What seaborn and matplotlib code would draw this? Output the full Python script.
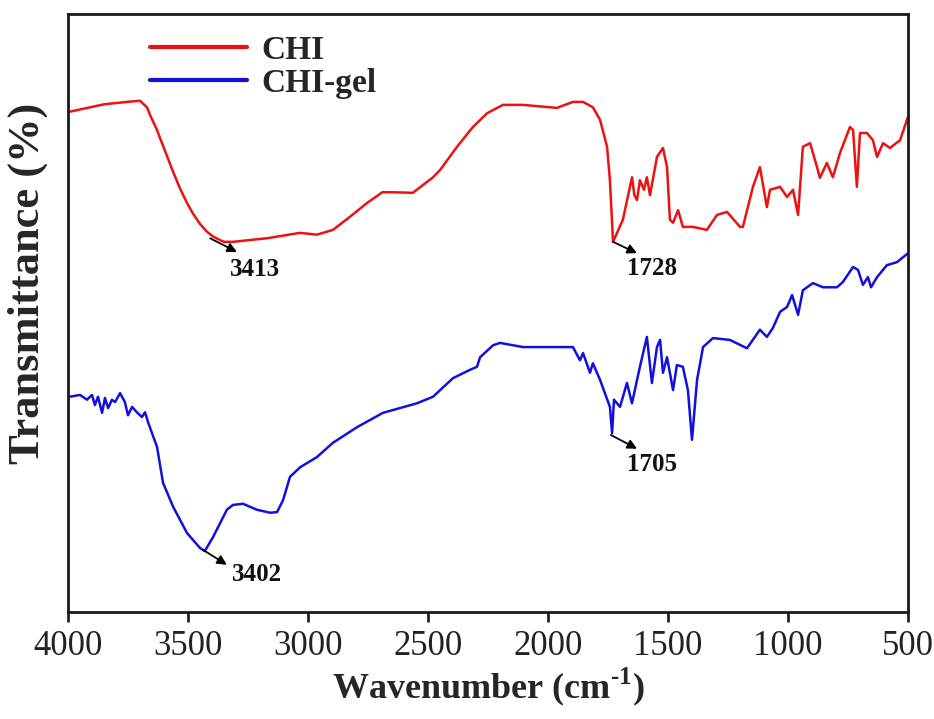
import matplotlib
matplotlib.use("Agg")
import matplotlib.pyplot as plt
import seaborn as sns
import pandas as pd

# ---- data ----
chi_wn = [4000, 3850, 3754, 3700, 3671, 3658, 3629, 3617, 3588, 3562, 3533, 3504, 3479, 3450,
          3421, 3396, 3367, 3350, 3313, 3171, 3033,
          2963, 2896, 2825, 2754, 2690, 2658, 2563, 2479, 2450, 2379, 2313, 2254, 2188, 2104,
          1963, 1896, 1854, 1813, 1783, 1754, 1742, 1729, 1688, 1650, 1640, 1629, 1617, 1600,
          1588, 1575, 1546, 1521, 1504, 1492, 1479, 1458, 1438, 1396, 1338, 1296, 1254, 1200,
          1188, 1146, 1117, 1088, 1075, 1033, 1004, 979, 958, 938, 908, 879, 867, 838, 813,
          783, 742, 729, 713, 700, 671, 646, 629, 604, 575, 533, 500]
chi_t = [83.6, 84.9, 85.3, 85.5, 84.4, 83.1, 80.6, 79.3, 76.3, 73.6, 70.8, 68.4, 66.6, 64.9,
         63.6, 62.8, 62.2, 61.9, 61.9, 62.5, 63.4,
         63.1, 63.9, 66.1, 68.4, 70.2, 70.2, 70.1, 72.7, 73.9, 77.8, 81.1, 83.4, 84.8, 84.8,
         84.3, 85.3, 85.3, 84.4, 82.3, 77.8, 72.2, 61.9, 65.6, 72.7, 69.7, 68.9, 72.2, 70.6,
         72.7, 69.7, 76.1, 77.6, 74.4, 65.6, 65.1, 67.2, 64.4, 64.4, 63.9, 66.4, 66.9, 64.4,
         64.4, 71.1, 74.4, 67.7, 70.6, 71.1, 69.4, 70.6, 66.4, 77.8, 78.4, 74.4, 72.6, 75.1, 72.7,
         76.8, 81.1, 80.6, 71.1, 80.1, 80.1, 78.9, 76.1, 78.4, 77.6, 78.9, 82.8]

gel_wn = [4000, 3992, 3950, 3921, 3900, 3888, 3875, 3858, 3846, 3833, 3817, 3804, 3783, 3763,
          3750, 3733, 3713, 3692, 3679, 3667, 3629, 3604, 3562,
          3504, 3450, 3430, 3396, 3338, 3313, 3271, 3213, 3158, 3129, 3104, 3075, 3033, 2963,
          2896, 2796, 2688, 2546, 2479, 2396, 2325, 2296, 2283, 2229, 2200, 2104, 1938, 1896,
          1867, 1854, 1825, 1813, 1783, 1763, 1742, 1733, 1725, 1700, 1671, 1650, 1617, 1588,
          1567, 1546, 1533, 1521, 1504, 1479, 1463, 1438, 1417, 1400, 1379, 1354, 1313, 1242,
          1171, 1117, 1088, 1063, 1033, 1004, 983, 958, 938, 896, 854, 796, 771, 729, 708,
          688, 667, 654, 629, 588, 546, 500]
gel_t = [36.3, 36.0, 36.3, 35.5, 36.3, 34.6, 36.0, 33.3, 35.8, 34.1, 35.5, 35.1, 36.6, 35.1,
         32.9, 34.3, 33.4, 32.6, 33.4, 31.8, 27.6, 21.6, 17.6,
         13.2, 10.7, 10.2, 12.5, 17.1, 17.9, 18.1, 17.1, 16.6, 16.7, 18.7, 22.6, 24.2, 25.9,
         28.3, 30.9, 33.3, 34.9, 36.0, 39.1, 40.5, 41.0, 42.6, 44.6, 45.0, 44.3, 44.3, 44.3,
         42.1, 43.3, 40.0, 41.6, 38.8, 36.6, 34.3, 29.9, 35.5, 34.3, 38.3, 34.9, 41.0, 46.0,
         38.3, 44.3, 45.5, 40.0, 42.6, 37.1, 41.3, 41.0, 37.1, 28.8, 38.8, 44.3, 45.8, 45.5,
         44.1, 47.2, 46.0, 47.5, 50.2, 51.0, 53.0, 49.7, 53.8, 55.0, 54.3, 54.3, 55.2, 57.7, 57.2,
         54.7, 56.0, 54.3, 56.0, 58.0, 58.5, 60.0]

series_names = ["CHI", "CHI-gel"]
x_ticks = [4000, 3500, 3000, 2500, 2000, 1500, 1000, 500]

# annotations: label, peak position, arrow-head position, text position
peak_labels = ["3413", "1728", "3402", "1705"]
peak_wn = [3408, 1729, 3438, 1738]
peak_t = [62.5, 61.9, 10.4, 29.6]
head_wn = [3296, 1629, 3338, 1629]
head_t = [60.2, 60.0, 7.9, 27.3]
text_wn = [3221, 1567, 3213, 1567]
text_t = [57.2, 57.5, 6.2, 24.6]

df = pd.concat([
    pd.DataFrame({"Wavenumber": chi_wn, "T": chi_t, "Sample": series_names[0]}),
    pd.DataFrame({"Wavenumber": gel_wn, "T": gel_t, "Sample": series_names[1]}),
], ignore_index=True)

sns.set_style("white")
plt.rcParams["font.family"] = ["Liberation Serif", "DejaVu Serif"]
plt.rcParams["mathtext.fontset"] = "custom"
plt.rcParams["mathtext.rm"] = "Liberation Serif:bold"
plt.rcParams["mathtext.bf"] = "Liberation Serif:bold"

fig = plt.figure(figsize=(9.34, 7.19), dpi=100)
ax = fig.add_axes([68 / 934, 1 - 612 / 719, 840 / 934, 598 / 719])

sns.lineplot(data=df, x="Wavenumber", y="T", hue="Sample",
             palette={"CHI": "#ee1111", "CHI-gel": "#1111dd"},
             sort=False, estimator=None, linewidth=1.8, ax=ax, legend=True)

ax.set_xlim(4000, 500)
ax.set_ylim(0, 100)
ax.set_xticks(x_ticks)
ax.set_xticklabels([str(t) for t in x_ticks], fontsize=25, color="#222222")
ax.set_yticks([])
ax.tick_params(axis="x", direction="out", length=7, width=2, color="#222222", pad=6, bottom=True)

for sp in ax.spines.values():
    sp.set_visible(True)
    sp.set_linewidth(2)
    sp.set_color("#1a1a1a")

ax.set_xlabel(r"Wavenumber (cm$^{\text{-1}}$)", fontsize=26, fontweight="bold", labelpad=2)
ax.set_ylabel("Transmittance (%)", fontsize=32, fontweight="bold")
ax.yaxis.set_label_coords(-0.024, 0.55)

leg = ax.legend(loc="upper left", bbox_to_anchor=(0.062, 1.015), frameon=False,
                handlelength=2.9, handletextpad=0.45, labelspacing=0.05,
                prop={"weight": "bold", "size": 24})
for line in leg.get_lines():
    line.set_linewidth(3)

for lab, pw, pt, hw, ht, tw, tt in zip(peak_labels, peak_wn, peak_t, head_wn, head_t, text_wn, text_t):
    ax.annotate("", xy=(hw, ht), xytext=(pw, pt),
                arrowprops=dict(arrowstyle="-|>", color="black", lw=1.3, mutation_scale=14,
                                shrinkA=0, shrinkB=0))
    ax.text(tw, tt, lab, fontsize=18, fontweight="bold", ha="center", va="center", color="#111111")

fig.savefig("out.png", dpi=100)
